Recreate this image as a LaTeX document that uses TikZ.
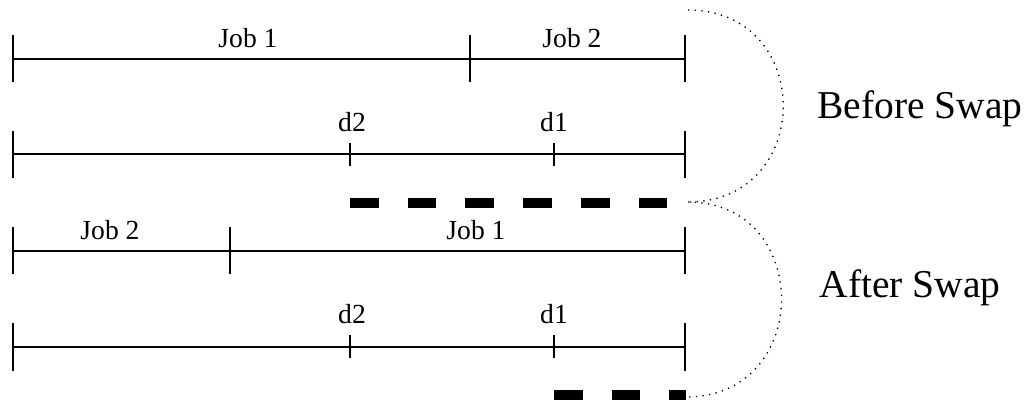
\documentclass[tikz,border=0pt]{standalone}
\usepackage{fontspec}
\setmainfont{Liberation Serif}

\tikzset{every picture/.style={line width=0.75pt}}
\tikzset{
  lbl/.style={font=\fontsize{20.7}{25}\selectfont, anchor=base, inner sep=0pt},
  biglbl/.style={font=\fontsize{29.6}{35}\selectfont, anchor=base, inner sep=0pt},
  gapbar/.style={line width=7.1pt, dash pattern=on 21.5pt off 21.8pt},
  swapcurve/.style={line width=1pt, dash pattern=on 1pt off 4pt}
}

\begin{document}
\begin{tikzpicture}[x=0.75pt,y=0.75pt,yscale=-1,xscale=1]
\useasboundingbox (0,0) rectangle (1031,400); %set diagram to 1031 x 400

%Straight Lines [row 1: schedule before swap]
\draw  [line width=0.8]  (13,59) -- (685,59) ;
\draw  [line width=0.8]  (13,35) -- (13,82) ;
\draw  [line width=0.8]  (470,35) -- (470,82) ;
\draw  [line width=0.8]  (685,35) -- (685,82) ;
%Straight Lines [row 2: deadlines before swap]
\draw  [line width=0.8]  (13,154) -- (685,154) ;
\draw  [line width=0.8]  (13,131) -- (13,178) ;
\draw  [line width=0.8]  (685,131) -- (685,178) ;
\draw  [line width=0.8]  (350,143) -- (350,166) ;
\draw  [line width=0.8]  (554,143) -- (554,166) ;
%Thick dashes [lateness before swap]
\draw  [gapbar]  (350,203) -- (667,203) ;

%Straight Lines [row 3: schedule after swap]
\draw  [line width=0.8]  (13,251) -- (685,251) ;
\draw  [line width=0.8]  (13,227) -- (13,274) ;
\draw  [line width=0.8]  (230,227) -- (230,274) ;
\draw  [line width=0.8]  (685,227) -- (685,274) ;
%Straight Lines [row 4: deadlines after swap]
\draw  [line width=0.8]  (13,347) -- (685,347) ;
\draw  [line width=0.8]  (13,323) -- (13,371) ;
\draw  [line width=0.8]  (685,323) -- (685,371) ;
\draw  [line width=0.8]  (350,335) -- (350,358) ;
\draw  [line width=0.8]  (554,335) -- (554,358) ;
%Thick dashes [lateness after swap]
\draw  [gapbar]  (554,395) -- (686,395) ;

%Curve Lines [braces]
\draw  [swapcurve]  (688,10) .. controls (815,10) and (815,202) .. (688,202) ;
\draw  [swapcurve]  (688,202) .. controls (813,202) and (813,397) .. (686,397) ;

% Text Node
\draw (248,47) node [lbl] (jobA) {Job 1};
% Text Node
\draw (572,47) node [lbl] (jobB) {Job 2};
% Text Node
\draw (352,131) node [lbl] (dueB) {d2};
% Text Node
\draw (554,131) node [lbl] (dueA) {d1};
% Text Node
\draw (110,239) node [lbl] (jobBs) {Job 2};
% Text Node
\draw (476,239) node [lbl] (jobAs) {Job 1};
% Text Node
\draw (352,323) node [lbl] (dueBs) {d2};
% Text Node
\draw (554,323) node [lbl] (dueAs) {d1};
% Text Node
\draw (920,118) node [biglbl] (before) {Before Swap};
% Text Node
\draw (910,297) node [biglbl] (after) {After Swap};

\end{tikzpicture}
\end{document}
